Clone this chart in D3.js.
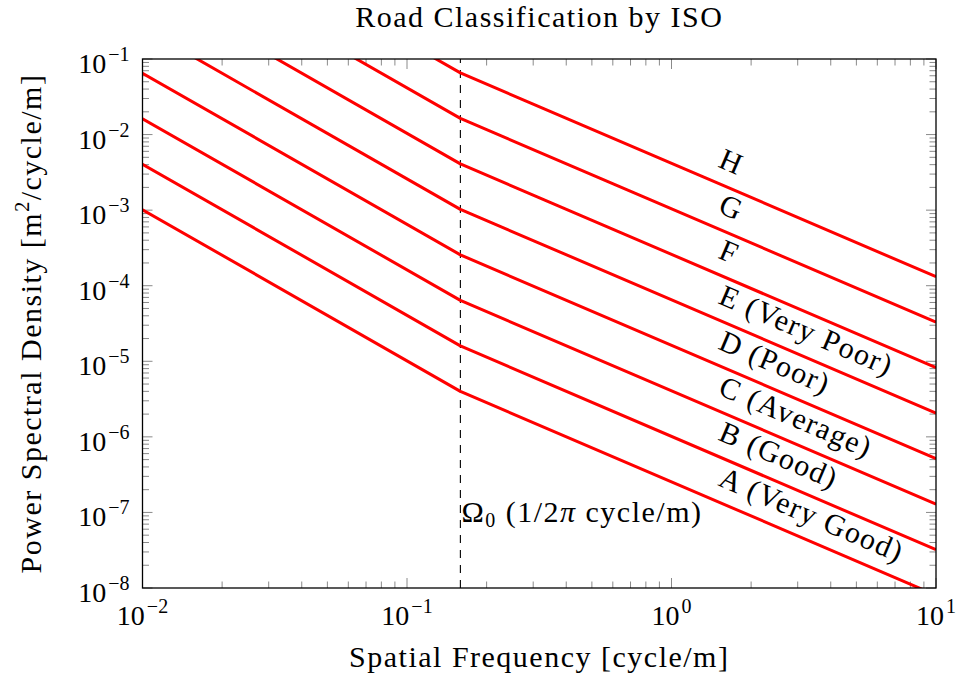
<!DOCTYPE html>
<html>
<head>
<meta charset="utf-8">
<script src="https://cdn.jsdelivr.net/npm/d3@7"></script>
<style>
  html, body { margin: 0; padding: 0; background: #fff; }
  svg text { font-family: "Liberation Serif", "Times New Roman", serif; fill: #000; }
  .wide { letter-spacing: 1.5px; }
</style>
</head>
<body>
<svg id="chart" width="958" height="682"></svg>
<script>
// ISO 8608 road classes: piecewise power-law PSD, break at Ω0 = 1/(2π) cycle/m
const classNames = ["A (Very Good)", "B (Good)", "C (Average)", "D (Poor)",
                    "E (Very Poor)", "F", "G", "H"];
const omega0 = 1 / (2 * Math.PI);
const freqStart = 0.01;
const freqEnd = 10;
// PSD at the start frequency, at Ω0 and at the end frequency [m²/cycle/m]
const psdAtStart = [1.013e-3, 4.05e-3, 1.62e-2, 6.48e-2, 2.59e-1, 1.04, 4.15, 16.6];
const psdAtOmega0 = [4e-6, 16e-6, 64e-6, 256e-6, 1024e-6, 4096e-6, 16384e-6, 65536e-6];
const psdAtEnd = [8.03e-9, 3.21e-8, 1.285e-7, 5.14e-7, 2.06e-6, 8.22e-6, 3.29e-5, 1.316e-4];
// frequency where each class name is written along its line
const labelFreq = 1.41;

const xTickExps = [-2, -1, 0, 1];
const yTickExps = [-8, -7, -6, -5, -4, -3, -2, -1];

const svg = d3.select("#chart");
const W = 958, H = 682;
const margin = { left: 142.5, right: W - 936, top: 59, bottom: H - 588 };
const x = d3.scaleLog().domain([1e-2, 1e1]).range([margin.left, W - margin.right]);
const y = d3.scaleLog().domain([1e-8, 1e-1]).range([H - margin.bottom, margin.top]);
const [x0, x1] = x.range();
const [y0, y1] = y.range(); // y0 bottom, y1 top

svg.append("defs").append("clipPath").attr("id", "plotClip")
  .append("rect").attr("x", x0).attr("y", y1).attr("width", x1 - x0).attr("height", y0 - y1);

// ---- ticks (inside, on all four sides) ----
const majorLen = 10, minorLen = 6.5;
const tickG = svg.append("g").attr("stroke", "#8a8a8a").attr("stroke-width", 1);
function minorValues(domain) {
  const out = [];
  const lo = Math.round(Math.log10(domain[0])), hi = Math.round(Math.log10(domain[1]));
  for (let e = lo; e < hi; e++) for (let m = 2; m <= 9; m++) out.push(m * Math.pow(10, e));
  return out;
}
const xMajor = xTickExps.map(e => Math.pow(10, e));
const yMajor = yTickExps.map(e => Math.pow(10, e));
[[xMajor, majorLen], [minorValues(x.domain()), minorLen]].forEach(([vals, len]) => {
  vals.forEach(v => {
    const px = x(v);
    tickG.append("line").attr("x1", px).attr("x2", px).attr("y1", y0).attr("y2", y0 - len);
    tickG.append("line").attr("x1", px).attr("x2", px).attr("y1", y1).attr("y2", y1 + len);
  });
});
[[yMajor, majorLen], [minorValues(y.domain()), minorLen]].forEach(([vals, len]) => {
  vals.forEach(v => {
    const py = y(v);
    tickG.append("line").attr("y1", py).attr("y2", py).attr("x1", x0).attr("x2", x0 + len);
    tickG.append("line").attr("y1", py).attr("y2", py).attr("x1", x1).attr("x2", x1 - len);
  });
});

// ---- Ω0 marker ----
svg.append("line")
  .attr("x1", x(omega0)).attr("x2", x(omega0)).attr("y1", y0).attr("y2", y1)
  .attr("stroke", "#000").attr("stroke-width", 1.1).attr("stroke-dasharray", "8,7");

// ---- PSD lines ----
const line = d3.line().x(d => x(d[0])).y(d => y(d[1]));
const lineG = svg.append("g").attr("clip-path", "url(#plotClip)");
classNames.forEach((name, i) => {
  const pts = [[freqStart, psdAtStart[i]], [omega0, psdAtOmega0[i]], [freqEnd, psdAtEnd[i]]];
  lineG.append("path").datum(pts).attr("d", line)
    .attr("fill", "none").attr("stroke", "#ff0000").attr("stroke-width", 3)
    .attr("stroke-linejoin", "round");
});

// ---- frame ----
svg.append("rect").attr("x", x0).attr("y", y1).attr("width", x1 - x0).attr("height", y0 - y1)
  .attr("fill", "none").attr("stroke", "#000").attr("stroke-width", 1.3);

// ---- class labels, written along each line ----
const fs = 30, tickFs = 28, supFs = 20;
classNames.forEach((name, i) => {
  // the segment right of Ω0 through the label point
  const ax = x(omega0), ay = y(psdAtOmega0[i]);
  const bx = x(freqEnd), by = y(psdAtEnd[i]);
  const ang = Math.atan2(by - ay, bx - ax) * 180 / Math.PI;
  const t = (x(labelFreq) - ax) / (bx - ax);
  const px = ax + t * (bx - ax), py = ay + t * (by - ay);
  svg.append("text").attr("class", "wide")
    .attr("transform", `translate(${px},${py}) rotate(${ang})`)
    .attr("x", 0).attr("y", -15)
    .attr("font-size", fs)
    .text(name);
});

// Ω0 annotation
const om = svg.append("text").attr("class", "wide")
  .attr("x", x(omega0) + 1).attr("y", y(1e-7) + 10)
  .attr("font-size", fs);
om.append("tspan").text("Ω");
om.append("tspan").attr("font-size", supFs).attr("dy", 5).text("0");
om.append("tspan").attr("dy", -5).text(" (1/2");
om.append("tspan").attr("font-style", "italic").text("π");
om.append("tspan").text(" cycle/m)");

// ---- tick labels ----
function powLabel(g, exp) {
  g.append("tspan").text("10");
  g.append("tspan").attr("font-size", supFs).attr("dx", 2).attr("dy", -12)
    .text(exp < 0 ? "\u2212" + (-exp) : String(exp));
}
xTickExps.forEach(e => {
  const t = svg.append("text").attr("x", x(Math.pow(10, e))).attr("y", y0 + 37)
    .attr("font-size", tickFs).attr("text-anchor", "middle");
  powLabel(t, e);
});
yTickExps.forEach(e => {
  const t = svg.append("text").attr("x", x0 - 13).attr("y", y(Math.pow(10, e)) + 14)
    .attr("font-size", tickFs).attr("text-anchor", "end");
  powLabel(t, e);
});

// ---- titles ----
svg.append("text").attr("class", "wide").attr("x", (x0 + x1) / 2).attr("y", 27)
  .attr("font-size", fs).attr("text-anchor", "middle")
  .text("Road Classification by ISO");
svg.append("text").attr("class", "wide").attr("x", (x0 + x1) / 2).attr("y", 667)
  .attr("font-size", fs).attr("text-anchor", "middle")
  .text("Spatial Frequency [cycle/m]");
const yl = svg.append("text").attr("class", "wide")
  .attr("transform", `translate(41,${(y0 + y1) / 2}) rotate(-90)`)
  .attr("font-size", fs).attr("text-anchor", "middle");
yl.append("tspan").text("Power Spectral Density [m");
yl.append("tspan").attr("font-size", supFs).attr("dy", -12).text("2");
yl.append("tspan").attr("dy", 12).text("/cycle/m]");
</script>
</body>
</html>
